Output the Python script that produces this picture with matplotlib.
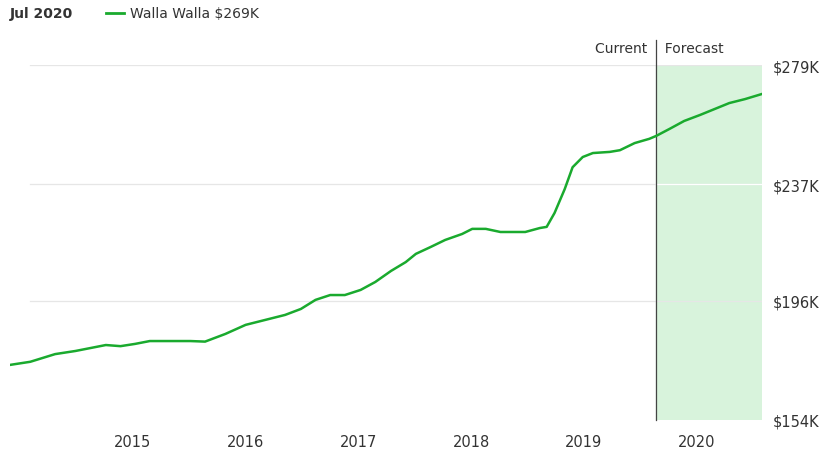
import matplotlib.pyplot as plt
from matplotlib.lines import Line2D

# decimal year / home value in $K
years = [2013.91, 2014.09, 2014.31, 2014.49, 2014.67, 2014.76, 2014.89, 2015.02, 2015.15,
         2015.51, 2015.64, 2015.82, 2016.00, 2016.17, 2016.35, 2016.49, 2016.62, 2016.75,
         2016.88, 2017.02, 2017.15, 2017.29, 2017.42, 2017.51, 2017.64, 2017.77, 2017.92,
         2018.01, 2018.13, 2018.26, 2018.48, 2018.61, 2018.67, 2018.74, 2018.83, 2018.90,
         2018.99, 2019.08, 2019.23, 2019.32, 2019.45, 2019.58, 2019.64, 2019.76, 2019.89,
         2020.03, 2020.16, 2020.29, 2020.43, 2020.58]
values = [173.4, 174.5, 177.2, 178.3, 179.7, 180.4, 180.0, 180.8, 181.8,
          181.8, 181.6, 184.3, 187.5, 189.2, 191.0, 193.1, 196.3, 198.0,
          198.0, 199.8, 202.6, 206.5, 209.6, 212.5, 214.9, 217.4, 219.5,
          221.3, 221.3, 220.2, 220.2, 221.6, 222.0, 226.9, 235.3, 243.0,
          246.6, 248.0, 248.4, 249.0, 251.5, 253.0, 254.0, 256.5, 259.3,
          261.4, 263.5, 265.6, 267.0, 268.8]
y_ticks = [154, 196, 237, 279]
x_ticks = [2015, 2016, 2017, 2018, 2019, 2020]
forecast_start = 2019.64
green = "#1aaa2e"

fig = plt.figure(figsize=(8.31, 4.56), dpi=100)
ax = fig.add_axes([10/831, 1-421/456, 752/831, 355/456])
x0, x1 = 2013.91, 2020.58
ax.set_xlim(x0, x1)
ax.set_ylim(154, 279)

ax.axvspan(forecast_start, x1, color="#d8f3dc", zorder=0)
for v in y_ticks[1:]:
    ax.axhline(v, xmin=(20/752), color="#e6e6e6", lw=0.9, zorder=1)
ax.axhline(237, xmin=(forecast_start - x0)/(x1 - x0), color="white", lw=0.9, zorder=1)
ax.axvline(forecast_start, ymin=0, ymax=1.07, color="#444444", lw=0.9, clip_on=False, zorder=2)
ax.plot(years, values, color=green, lw=1.8, zorder=3)

for s in ax.spines.values():
    s.set_visible(False)
ax.set_xticks(x_ticks)
ax.set_xticklabels([str(t) for t in x_ticks], fontsize=10.5, color="#333333")
ax.tick_params(axis="x", length=0, pad=10)
ax.yaxis.tick_right()
ax.set_yticks(y_ticks)
ax.set_yticklabels(["${}K".format(t) for t in y_ticks], fontsize=10.5, color="#333333")
ax.tick_params(axis="y", length=0, pad=8)

ax.text(forecast_start, 285, "Current  ", ha="right", va="center", fontsize=10, color="#333333")
ax.text(forecast_start, 285, "  Forecast", ha="left", va="center", fontsize=10, color="#333333")

fig.text(10/831, 1-14/456, "Jul 2020", fontsize=10, fontweight="bold", color="#333333", va="center")
fig.add_artist(Line2D([106/831, 124/831], [1-14/456, 1-14/456], color=green, lw=2))
fig.text(130/831, 1-14/456, "Walla Walla $269K", fontsize=10, color="#333333", va="center")

fig.savefig("out.png", dpi=100)
